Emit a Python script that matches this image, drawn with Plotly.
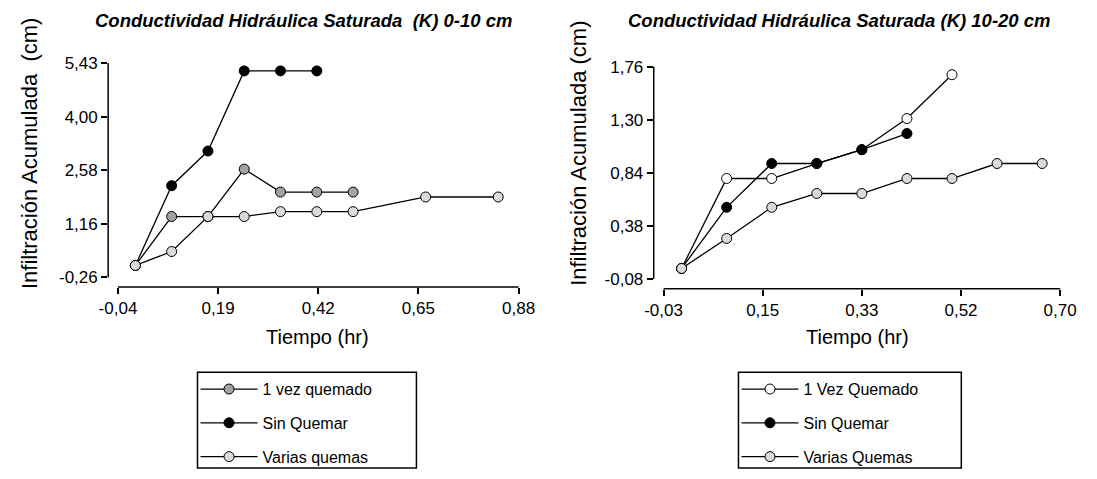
import plotly.graph_objects as go

# ---------------- data ----------------
# Left panel: 0-10 cm
t_left = [0.0, 0.0833, 0.1667, 0.25, 0.3333, 0.4167, 0.5, 0.6667, 0.8333]
left_1vez = [0.05, 1.35, 1.35, 2.61, 2.00, 2.00, 2.00]
left_sin = [0.05, 2.17, 3.09, 5.22, 5.22, 5.22]
left_varias = [0.05, 0.42, 1.35, 1.35, 1.48, 1.48, 1.48, 1.87, 1.87]

# Right panel: 10-20 cm
t_right = [0.0, 0.0833, 0.1667, 0.25, 0.3333, 0.4167, 0.5, 0.5833, 0.6667]
right_1vez = [0.01, 0.79, 0.79, 0.92, 1.04, 1.31, 1.69]
right_sin = [0.01, 0.54, 0.92, 0.92, 1.04, 1.18]
right_varias = [0.01, 0.27, 0.54, 0.66, 0.66, 0.79, 0.79, 0.92, 0.92]

# tick values / labels
left_xticks = [-0.04, 0.19, 0.42, 0.65, 0.88]
left_xlabels = ["-0,04", "0,19", "0,42", "0,65", "0,88"]
left_yticks = [-0.26, 1.16, 2.58, 4.00, 5.43]
left_ylabels = ["-0,26", "1,16", "2,58", "4,00", "5,43"]
right_xticks = [-0.0333, 0.15, 0.3333, 0.5167, 0.70]
right_xlabels = ["-0,03", "0,15", "0,33", "0,52", "0,70"]
right_yticks = [-0.08, 0.38, 0.84, 1.30, 1.76]
right_ylabels = ["-0,08", "0,38", "0,84", "1,30", "1,76"]

# ---------------- figure ----------------
W, H = 1097, 479
FONT = "Liberation Sans, Arial, sans-serif"
MEDIUM = "#a3a3a3"
LIGHT = "#dadada"


def px_x(p):
    return p / W


def px_y(p):
    return 1 - p / H


fig = go.Figure()


def add(x, y, name, fill, xa, ya, legend, group):
    fig.add_trace(go.Scatter(
        x=x[:len(y)], y=y, name=name, mode="lines+markers",
        xaxis=xa, yaxis=ya, legend=legend, legendgroup=group,
        line=dict(color="black", width=1.3),
        marker=dict(symbol="circle", size=10, color=fill,
                    line=dict(color="black", width=1)),
    ))


add(t_left, left_1vez, "1 vez quemado", MEDIUM, "x", "y", "legend", "a")
add(t_left, left_sin, "Sin Quemar", "black", "x", "y", "legend", "b")
add(t_left, left_varias, "Varias quemas", LIGHT, "x", "y", "legend", "c")

add(t_right, right_1vez, "1 Vez Quemado", "white", "x2", "y2", "legend2", "d")
add(t_right, right_sin, "Sin Quemar", "black", "x2", "y2", "legend2", "e")
add(t_right, right_varias, "Varias Quemas", LIGHT, "x2", "y2", "legend2", "f")

tickfont = dict(family=FONT, size=17, color="black")
axis_common = dict(showgrid=False, zeroline=False, showline=False,
                   ticks="outside", ticklen=6, tickwidth=1.5, tickcolor="black",
                   tickfont=tickfont, tickmode="array", fixedrange=True)

legend_common = dict(xanchor="left", yanchor="top",
                     bordercolor="black", borderwidth=0, bgcolor="rgba(0,0,0,0)",
                     font=dict(family=FONT, size=16, color="black"),
                     traceorder="grouped", tracegroupgap=10, itemwidth=57,
                     itemclick=False, itemdoubleclick=False)

fig.update_layout(
    width=W, height=H,
    margin=dict(l=0, r=0, t=0, b=0),
    paper_bgcolor="white", plot_bgcolor="white",
    showlegend=True,
    xaxis=dict(domain=[px_x(101), px_x(525)], range=[-0.0625, 0.8935],
               tickvals=left_xticks, ticktext=left_xlabels, anchor="y", **axis_common),
    yaxis=dict(domain=[px_y(285), px_y(55)], range=[-0.523, 5.525],
               tickvals=left_yticks, ticktext=left_ylabels, anchor="x", **axis_common),
    xaxis2=dict(domain=[px_x(656.7), px_x(1080)], range=[-0.0515, 0.7169],
                tickvals=right_xticks, ticktext=right_xlabels, anchor="y2", **axis_common),
    yaxis2=dict(domain=[px_y(286.7), px_y(58)], range=[-0.1658, 1.797],
                tickvals=right_yticks, ticktext=right_ylabels, anchor="x2", **axis_common),
    legend=dict(x=px_x(190), y=px_y(371), **legend_common),
    legend2=dict(x=px_x(741), y=px_y(371), **legend_common),
)

# axis lines (offset style: span only first..last tick)
line_style = dict(color="black", width=1.5)
fig.add_shape(type="line", xref="x", yref="y domain", x0=left_xticks[0], x1=left_xticks[-1],
              y0=0, y1=0, line=line_style)
fig.add_shape(type="line", xref="x domain", yref="y", x0=0, x1=0,
              y0=left_yticks[0], y1=left_yticks[-1], line=line_style)
fig.add_shape(type="line", xref="x2", yref="y2 domain", x0=right_xticks[0], x1=right_xticks[-1],
              y0=0, y1=0, line=line_style)
fig.add_shape(type="line", xref="x2 domain", yref="y2", x0=0, x1=0,
              y0=right_yticks[0], y1=right_yticks[-1], line=line_style)

# legend frames
box_style = dict(color="black", width=1.5)
fig.add_shape(type="rect", xref="paper", yref="paper",
              x0=px_x(192), x1=px_x(415), y0=px_y(468), y1=px_y(371), line=box_style)
fig.add_shape(type="rect", xref="paper", yref="paper",
              x0=px_x(743), x1=px_x(970), y0=px_y(468), y1=px_y(371), line=box_style)

# titles
title_font = dict(family=FONT, size=18.5, color="black")
fig.add_annotation(text="<b><i>Conductividad Hidráulica Saturada \u00a0(K) 0-10 cm</i></b>",
                   xref="paper", yref="paper", x=px_x(300), y=px_y(16),
                   xanchor="center", yanchor="middle", showarrow=False, font=title_font)
fig.add_annotation(text="<b><i>Conductividad Hidráulica Saturada (K) 10-20 cm</i></b>",
                   xref="paper", yref="paper", x=px_x(846), y=px_y(16),
                   xanchor="center", yanchor="middle", showarrow=False, font=title_font)

xt_font = dict(family=FONT, size=20, color="black")
fig.add_annotation(text="Tiempo (hr)", xref="paper", yref="paper", x=px_x(314), y=px_y(335),
                   xanchor="center", yanchor="middle", showarrow=False, font=xt_font)
fig.add_annotation(text="Tiempo (hr)", xref="paper", yref="paper", x=px_x(864), y=px_y(335),
                   xanchor="center", yanchor="middle", showarrow=False, font=xt_font)

yt_font = dict(family=FONT, size=22, color="black")
fig.add_annotation(text="Infiltración Acumulada \u00a0(cm)", xref="paper", yref="paper",
                   x=px_x(21), y=px_y(150), textangle=-90,
                   xanchor="center", yanchor="middle", showarrow=False, font=yt_font)
fig.add_annotation(text="Infiltración Acumulada (cm)", xref="paper", yref="paper",
                   x=px_x(580), y=px_y(150), textangle=-90,
                   xanchor="center", yanchor="middle", showarrow=False, font=yt_font)

fig.write_html("out.html")
